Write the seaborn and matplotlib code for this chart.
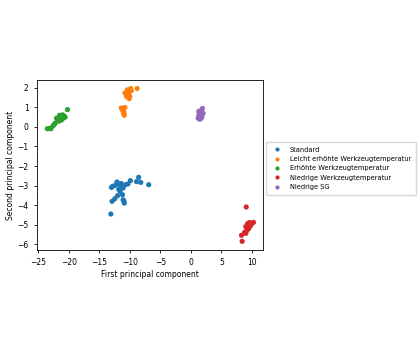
import matplotlib
matplotlib.use("Agg")
import matplotlib.pyplot as plt
import seaborn as sns
import pandas as pd

labels = ["Standard", "Leicht erhöhte Werkzeugtemperatur", "Erhöhte Werkzeugtemperatur",
          "Niedrige Werkzeugtemperatur", "Niedrige SG"]

std_x = [-12.8, -13.0, -12.1, -11.8, -11.5, -11.8, -11.1, -10.7, -10.3, -9.9, -8.9, -8.55, -8.2, -6.9,
         -11.6, -11.2, -12.0, -12.45, -12.9, -11.1, -10.9, -13.1, -12.4, -11.4, -10.95]
std_y = [-3.04, -3.1, -2.82, -2.92, -3.0, -3.2, -3.13, -2.96, -2.92, -2.75, -2.8, -2.58, -2.84, -2.96,
         -3.3, -3.47, -3.52, -3.68, -3.81, -3.73, -3.9, -4.46, -3.0, -2.9, -3.8]

lei_x = [-9.86, -8.8, -10.3, -10.6, -10.0, -10.8, -10.1, -9.75, -10.4, -10.2, -10.5,
         -11.4, -10.8, -11.1, -10.9, -11.2, -10.95, -11.0]
lei_y = [1.97, 1.97, 1.83, 1.66, 1.57, 1.74, 1.45, 1.86, 1.9, 1.7, 1.55,
         0.97, 1.0, 0.8, 0.6, 0.9, 0.75, 0.68]

erh_x = [-23.5, -23.2, -22.9, -22.6, -22.2, -21.8, -21.3, -20.7, -20.2, -21.0, -21.6, -20.9,
         -22.4, -21.5, -22.0, -20.6, -21.2]
erh_y = [-0.09, -0.08, -0.09, 0.05, 0.2, 0.38, 0.5, 0.55, 0.89, 0.62, 0.3, 0.45,
         0.12, 0.6, 0.45, 0.5, 0.35]

nie_x = [9.07, 8.4, 8.3, 9.0, 9.3, 9.6, 9.9, 10.26, 9.5, 9.2, 9.8, 8.8, 9.4, 9.0, 9.7, 9.1]
nie_y = [-4.1, -5.86, -5.55, -5.1, -4.95, -4.9, -4.95, -4.89, -5.2, -5.3, -5.05, -5.4, -5.0, -5.45, -4.92, -5.15]

sg_x = [1.2, 1.4, 1.6, 1.8, 2.0, 1.3, 1.5, 1.7, 1.9, 1.4, 1.6, 1.8, 1.3, 1.7]
sg_y = [0.45, 0.4, 0.42, 0.5, 0.7, 0.6, 0.75, 0.85, 0.95, 0.55, 0.65, 0.6, 0.8, 0.48]

xs = [std_x, lei_x, erh_x, nie_x, sg_x]
ys = [std_y, lei_y, erh_y, nie_y, sg_y]
rows = []
for lab, xx, yy in zip(labels, xs, ys):
    for a, b in zip(xx, yy):
        rows.append((a, b, lab))
df = pd.DataFrame(rows, columns=["x", "y", "group"])

plt.rcParams["font.size"] = 5.5
fig = plt.figure(figsize=(4.2, 3.5), dpi=100)
ax = fig.add_axes([0.088, 0.286, 0.538, 0.485])
sns.scatterplot(data=df, x="x", y="y", hue="group", hue_order=labels,
                palette="tab10", s=14, linewidth=0, ax=ax)
ax.set_xlim(-25.2, 11.8)
ax.set_ylim(-6.3, 2.4)
ax.set_xticks([-25, -20, -15, -10, -5, 0, 5, 10])
ax.set_yticks([-6, -5, -4, -3, -2, -1, 0, 1, 2])
ax.tick_params(labelsize=5.5, length=2.5, width=0.6)
for sp in ax.spines.values():
    sp.set_linewidth(0.6)
ax.set_xlabel("First principal component", fontsize=5.5, labelpad=2)
ax.set_ylabel("Second principal component", fontsize=5.5, labelpad=2)
ax.legend(loc="center left", bbox_to_anchor=(1.005, 0.48), fontsize=4.8,
          markerscale=0.8, frameon=True, handletextpad=0.9, borderpad=0.7,
          labelspacing=0.5, framealpha=0.8, borderaxespad=0.3)
fig.savefig("out.png", dpi=100)
